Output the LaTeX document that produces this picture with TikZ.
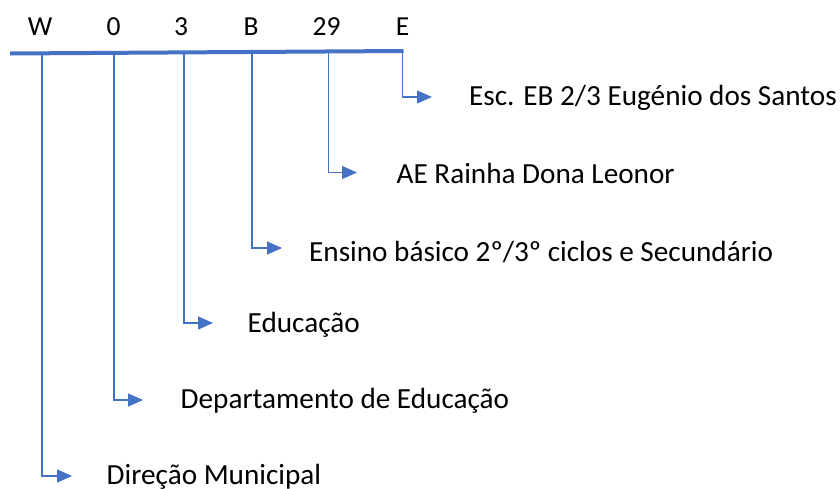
\documentclass[tikz,border=0pt]{standalone}
\usepackage{fontspec}
\setmainfont{Carlito}
\usetikzlibrary{arrows.meta}
\definecolor{accent}{HTML}{4472C4}
\tikzset{
  codelbl/.style={anchor=base,inner sep=0pt,font=\fontsize{27.5}{32}\selectfont},
  desc/.style={anchor=base west,inner sep=0pt,font=\fontsize{29.2}{34}\selectfont},
  bar/.style={draw=accent,line width=4pt},
  branch/.style={draw=accent,line width=1.3pt,-{Triangle[length=15pt,width=13pt]}}
}
\begin{document}
\begin{tikzpicture}[x=1pt,y=-1pt]
\useasboundingbox (0,0) rectangle (840,488);
% code labels
\node[codelbl] (lW) at (40,35) {W};
\node[codelbl] (l0) at (113.5,35) {0};
\node[codelbl] (l3) at (181,35) {3};
\node[codelbl] (lB) at (251,35) {B};
\node[codelbl] (l29) at (326.5,35) {29};
\node[codelbl] (lE) at (402.5,35) {E};
% bar
\coordinate (barL) at (10,53.5);
\coordinate (barR) at (403.5,51);
\draw[bar] (barL) -- (barR);
\coordinate (bW) at (42,53);
\coordinate (b0) at (114,53);
\coordinate (b3) at (184,52);
\coordinate (bB) at (252,52);
\coordinate (b29) at (328.5,52);
\coordinate (bE) at (402.8,51);
% arrow tips
\coordinate (aE) at (432,97);
\coordinate (a29) at (357,172.5);
\coordinate (aB) at (282,248);
\coordinate (a3) at (213,323);
\coordinate (a0) at (143,400);
\coordinate (aW) at (72,476);
% descriptions
\node[desc] (tE) at (469,105) {Esc. EB 2/3 Eugénio dos Santos};
\node[desc] (t29) at (396.5,183) {AE Rainha Dona Leonor};
\node[desc] (tB) at (309,261) {Ensino básico 2º/3º ciclos e Secundário};
\node[desc] (t3) at (247.5,332) {Educação};
\node[desc] (t0) at (180.5,408) {Departamento de Educação};
\node[desc] (tW) at (106.5,484) {Direção Municipal};
% branches
\draw[branch] (bE) |- (aE);
\draw[branch] (b29) |- (a29);
\draw[branch] (bB) |- (aB);
\draw[branch] (b3) |- (a3);
\draw[branch] (b0) |- (a0);
\draw[branch] (bW) |- (aW);
\end{tikzpicture}
\end{document}
